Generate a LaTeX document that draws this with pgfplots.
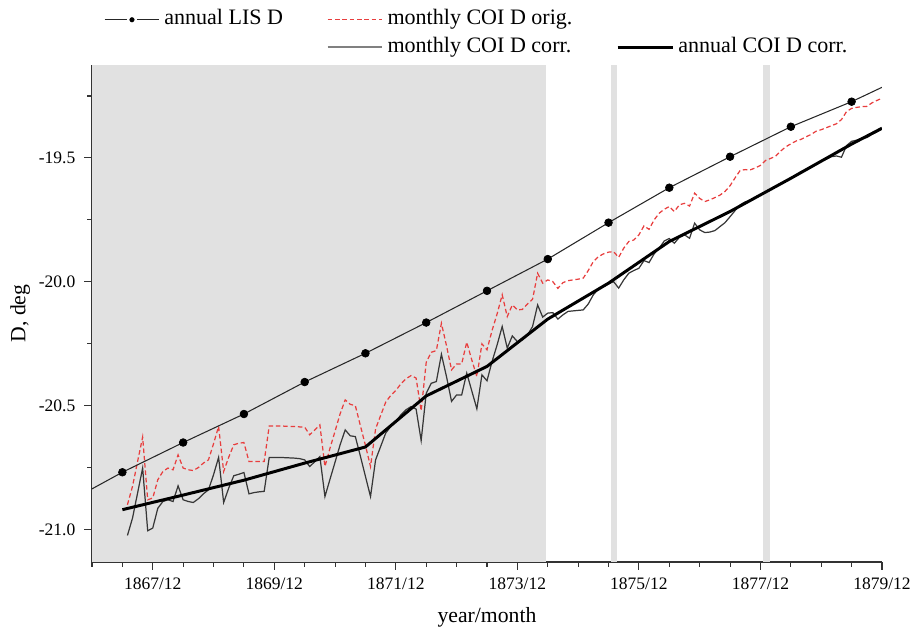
\documentclass[border=0pt]{standalone}
\usepackage{pgfplots}
\pgfplotsset{compat=1.18}
\usepackage{pgfplotstable}
\usepackage{fontspec}
\setmainfont{Liberation Serif}

\definecolor{shade}{RGB}{225,225,225}
\definecolor{origred}{RGB}{232,62,62}
\definecolor{corrgray}{RGB}{55,55,55}

% x = months counted from 1866/12 (1867/12 -> 12, 1879/12 -> 156)
\pgfplotstableread{
m D
0 -20.835
6 -20.768
18 -20.648
30 -20.533
42 -20.404
54 -20.288
66 -20.164
78 -20.036
90 -19.908
102 -19.761
114 -19.620
126 -19.495
138 -19.374
150 -19.273
156 -19.215
}\lisline

\pgfplotstableread{
m D
6 -20.768
18 -20.648
30 -20.533
42 -20.404
54 -20.288
66 -20.164
78 -20.036
90 -19.908
102 -19.761
114 -19.620
126 -19.495
138 -19.374
150 -19.273
}\lispts

\pgfplotstableread{
m D
6 -20.919
18 -20.860
30 -20.800
42 -20.731
54 -20.666
66 -20.460
78 -20.341
90 -20.150
102 -20.005
114 -19.837
126 -19.716
138 -19.582
150 -19.444
156 -19.380
}\annualcorr

\pgfplotstableread{
m corr orig
7 -21.023 -20.899
8 -20.953 -20.825
9 -20.852 -20.725
10 -20.751 -20.626
11 -21.004 -20.879
12 -20.993 -20.872
13 -20.913 -20.798
14 -20.886 -20.765
15 -20.879 -20.751
16 -20.886 -20.758
17 -20.823 -20.698
18 -20.879 -20.751
19 -20.886 -20.758
20 -20.890 -20.761
21 -20.875 -20.749
22 -20.855 -20.731
23 -20.839 -20.718
24 -20.778 -20.653
25 -20.708 -20.583
26 -20.890 -20.765
27 -20.832 -20.707
28 -20.782 -20.657
29 -20.776 -20.651
30 -20.769 -20.648
31 -20.855 -20.725
32 -20.850 -20.725
33 -20.847 -20.725
34 -20.845 -20.725
35 -20.708 -20.581
36 -20.708 -20.581
37 -20.708 -20.581
38 -20.709 -20.582
39 -20.710 -20.583
40 -20.711 -20.583
41 -20.713 -20.585
42 -20.718 -20.586
43 -20.745 -20.617
44 -20.725 -20.597
45 -20.705 -20.577
46 -20.866 -20.745
47 -20.796 -20.671
48 -20.727 -20.602
49 -20.657 -20.532
50 -20.597 -20.476
51 -20.621 -20.494
52 -20.624 -20.499
53 -20.703 -20.580
54 -20.785 -20.660
55 -20.866 -20.745
56 -20.718 -20.593
57 -20.664 -20.539
58 -20.610 -20.485
59 -20.583 -20.458
60 -20.563 -20.438
61 -20.536 -20.411
62 -20.516 -20.391
63 -20.503 -20.378
64 -20.513 -20.388
65 -20.640 -20.520
66 -20.449 -20.324
67 -20.409 -20.284
68 -20.402 -20.277
69 -20.292 -20.167
70 -20.382 -20.257
71 -20.482 -20.355
72 -20.456 -20.331
73 -20.456 -20.331
74 -20.368 -20.243
75 -20.440 -20.315
76 -20.512 -20.382
77 -20.375 -20.250
78 -20.399 -20.274
79 -20.321 -20.196
80 -20.254 -20.129
81 -20.180 -20.052
82 -20.267 -20.140
83 -20.218 -20.093
84 -20.241 -20.113
85 -20.234 -20.111
86 -20.214 -20.089
87 -20.180 -20.070
88 -20.093 -19.965
89 -20.142 -20.005
90 -20.126 -19.992
91 -20.124 -19.999
92 -20.150 -20.026
93 -20.133 -20.003
94 -20.119 -19.995
95 -20.117 -19.992
96 -20.115 -19.989
97 -20.113 -19.985
98 -20.089 -19.954
99 -20.052 -19.918
100 -20.029 -19.898
101 -20.019 -19.887
102 -20.008 -19.880
103 -19.999 -19.878
104 -20.025 -19.901
105 -19.992 -19.864
106 -19.965 -19.837
107 -19.954 -19.831
108 -19.945 -19.810
109 -19.914 -19.774
110 -19.922 -19.788
111 -19.887 -19.750
112 -19.864 -19.723
113 -19.835 -19.707
114 -19.825 -19.696
115 -19.844 -19.716
116 -19.820 -19.689
117 -19.810 -19.683
118 -19.824 -19.694
119 -19.763 -19.642
120 -19.790 -19.663
121 -19.801 -19.676
122 -19.799 -19.669
123 -19.793 -19.660
124 -19.777 -19.650
125 -19.761 -19.635
126 -19.737 -19.612
127 -19.712 -19.580
128 -19.689 -19.550
129 -19.677 -19.547
130 -19.672 -19.548
131 -19.660 -19.540
132 -19.649 -19.530
133 -19.638 -19.510
134 -19.627 -19.502
135 -19.615 -19.493
136 -19.604 -19.472
137 -19.593 -19.455
138 -19.582 -19.443
139 -19.570 -19.432
140 -19.555 -19.425
141 -19.550 -19.415
142 -19.535 -19.405
143 -19.525 -19.392
144 -19.512 -19.386
145 -19.505 -19.378
146 -19.495 -19.370
147 -19.492 -19.362
148 -19.497 -19.345
149 -19.450 -19.313
150 -19.433 -19.300
151 -19.428 -19.296
152 -19.420 -19.293
153 -19.418 -19.292
154 -19.405 -19.278
155 -19.395 -19.268
156 -19.383 -19.259
}\monthly

\begin{document}
\begin{tikzpicture}
\begin{axis}[
  scale only axis,
  width=451.43pt, height=284pt,
  xmin=0, xmax=156,
  ymin=-21.13, ymax=-19.125,
  axis lines*=left,
  axis line style={-, line width=0.6pt, black!80},
  tick align=outside,
  major tick length=4.5pt,
  minor tick length=2.8pt,
  tick style={line width=0.6pt, black!80},
  xtick={12,36,60,84,108,132,156},
  xticklabels={1867/12,1869/12,1871/12,1873/12,1875/12,1877/12,1879/12},
  minor xtick={0,6,18,24,30,42,48,54,66,72,78,90,96,102,114,120,126,138,144,150},
  ytick={-21,-20.5,-20,-19.5},
  minor ytick={-20.75,-20.25,-19.75,-19.25},
  y tick label style={/pgf/number format/fixed, /pgf/number format/fixed zerofill,
    /pgf/number format/precision=1, /pgf/number format/assume math mode=true, xshift=-1.5pt},
  ticklabel style={font=\fontsize{10}{12}\selectfont},
  x tick label style={yshift=-1pt},
  xlabel={year/month},
  ylabel={D, deg},
  label style={font=\fontsize{12.4}{14}\selectfont},
  xlabel style={at={(axis description cs:0.5,0)}, anchor=center, yshift=-31.4pt},
  ylabel style={at={(axis description cs:-0.0908,0.5)}, anchor=center},
  legend columns=3,
  legend cell align=left,
  legend image code/.code={\draw[mark repeat=2,mark phase=2] plot coordinates {(0cm,0cm) (0.55cm,0cm) (1.1cm,0cm)};},
  legend style={draw=none, fill=none, inner sep=0pt,
    at={(axis description cs:0,1)}, anchor=south west, xshift=6.7pt, yshift=2.6pt,
    font=\fontsize{12.6}{14}\selectfont, row sep=1pt,
    nodes={inner sep=1.5pt, text height=8.7pt, text depth=3pt},
    /tikz/every odd column/.append style={column sep=1pt},
    /tikz/every even column/.append style={column sep=23.5pt}},
]
% shaded intervals
\addplot[fill=shade, draw=none, forget plot] coordinates {(0,-21.13) (89.6,-21.13) (89.6,-19.125) (0,-19.125)} -- cycle;
\addplot[fill=shade, draw=none, forget plot] coordinates {(102.5,-21.13) (103.7,-21.13) (103.7,-19.125) (102.5,-19.125)} -- cycle;
\addplot[fill=shade, draw=none, forget plot] coordinates {(132.6,-21.13) (133.8,-21.13) (133.8,-19.125) (132.6,-19.125)} -- cycle;

% series
\addplot[origred, line width=0.7pt, dash pattern=on 2.6pt off 1.6pt, forget plot] table[x=m, y=orig] {\monthly};
\addplot[corrgray, line width=0.7pt, forget plot] table[x=m, y=corr] {\monthly};
\addplot[black, line width=1.7pt, forget plot] table[x=m, y=D] {\annualcorr};
\addplot[black!85, line width=0.6pt, forget plot] table[x=m, y=D] {\lisline};
\addplot[only marks, mark=*, mark size=2.2pt, black, forget plot] table[x=m, y=D] {\lispts};

% legend
\addlegendimage{black!85, line width=0.6pt, mark=*, mark size=2.2pt, mark options={fill=black, draw=white, line width=1.2pt}}
\addlegendentry{annual LIS D}
\addlegendimage{origred, line width=0.7pt, dash pattern=on 2.6pt off 1.6pt}
\addlegendentry{monthly COI D orig.}
\addlegendimage{empty legend}
\addlegendentry{}
\addlegendimage{empty legend}
\addlegendentry{}
\addlegendimage{gray, line width=0.9pt}
\addlegendentry{monthly COI D corr.}
\addlegendimage{black, line width=1.7pt}
\addlegendentry{annual COI D corr.}
\end{axis}
\pgfresetboundingbox
\path[use as bounding box] (-52.57pt,-38.29pt) rectangle (470.29pt,321.14pt);
\end{tikzpicture}
\end{document}
